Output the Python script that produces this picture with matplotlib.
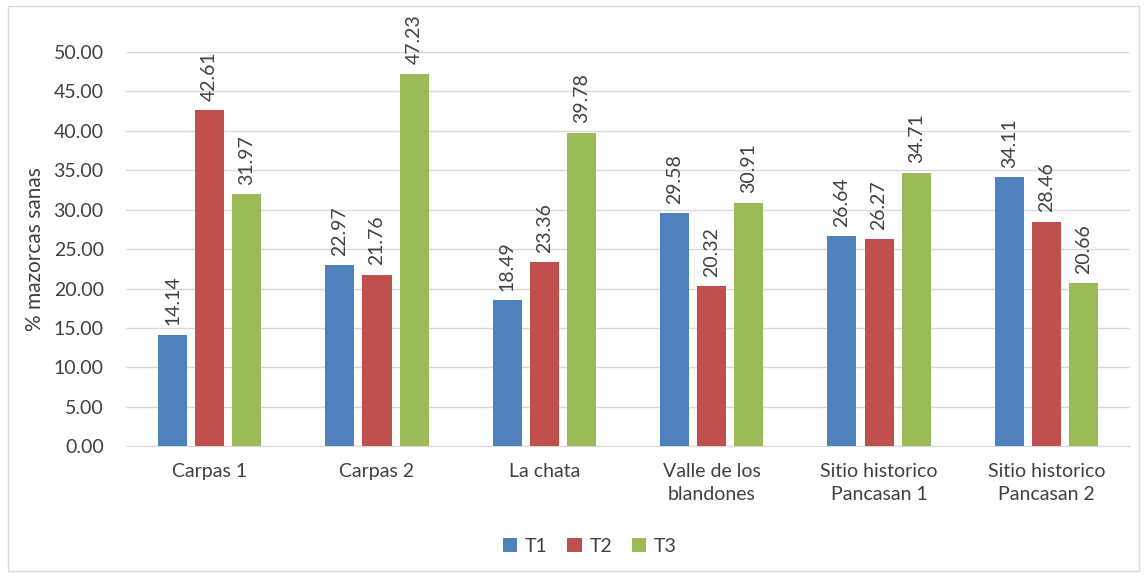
import numpy as np
import matplotlib.pyplot as plt
from matplotlib.patches import Rectangle

plt.rcParams['font.family'] = ['Lato', 'DejaVu Sans']

# Healthy ears (%) per site and treatment
sites = ["Carpas 1", "Carpas 2", "La chata", "Valle de los\nblandones",
         "Sitio historico\nPancasan 1", "Sitio historico\nPancasan 2"]
t1 = [14.14, 22.97, 18.49, 29.58, 26.64, 34.11]
t2 = [42.61, 21.76, 23.36, 20.32, 26.27, 28.46]
t3 = [31.97, 47.23, 39.78, 30.91, 34.71, 20.66]
series_names = ["T1", "T2", "T3"]
colors = ["#4f81bd", "#c0504d", "#9bbb59"]

fig = plt.figure(figsize=(11.45, 5.78), dpi=100)
ax = fig.add_axes([0.110, 0.228, 0.877, 0.682])

# light frame around the whole chart
fig.patches.append(Rectangle((0.007, 0.012), 0.988, 0.978, transform=fig.transFigure,
                             fill=False, edgecolor="#d9d9d9", linewidth=1))

x = np.arange(len(sites))
width = 0.174
step = 0.222
for i, (vals, name, c) in enumerate(zip([t1, t2, t3], series_names, colors)):
    pos = x + (i - 1) * step
    ax.bar(pos, vals, width, color=c, label=name, zorder=3)
    for px, v in zip(pos, vals):
        ax.text(px, v + 1.2, f"{v:.2f}", rotation=90, ha="center", va="bottom",
                fontsize=14, color="#404040")

ax.set_xlim(-0.5, len(sites) - 0.5)
ax.set_ylim(0, 50)
ax.set_yticks(np.arange(0, 50.1, 5))
ax.set_yticklabels([f"{v:.2f}" for v in np.arange(0, 50.1, 5)])
ax.yaxis.grid(True, color="#d9d9d9", linewidth=1, zorder=0)
ax.set_xticks(x)
ax.set_xticklabels(sites, linespacing=1.45)
ax.tick_params(axis="both", length=0, labelsize=14, labelcolor="#404040")
ax.tick_params(axis="y", pad=16)
ax.tick_params(axis="x", pad=12)
for s in ["top", "right", "left"]:
    ax.spines[s].set_visible(False)
ax.spines["bottom"].set_color("#d9d9d9")
ax.set_ylabel("% mazorcas sanas", fontsize=15, color="#404040", labelpad=6)

fig.legend(loc="center", bbox_to_anchor=(0.515, 0.055), ncol=3, frameon=False,
           fontsize=14, handlelength=0.75, handleheight=0.75, columnspacing=1.0,
           handletextpad=0.4, labelcolor="#404040")

fig.savefig("out.png", dpi=100)
